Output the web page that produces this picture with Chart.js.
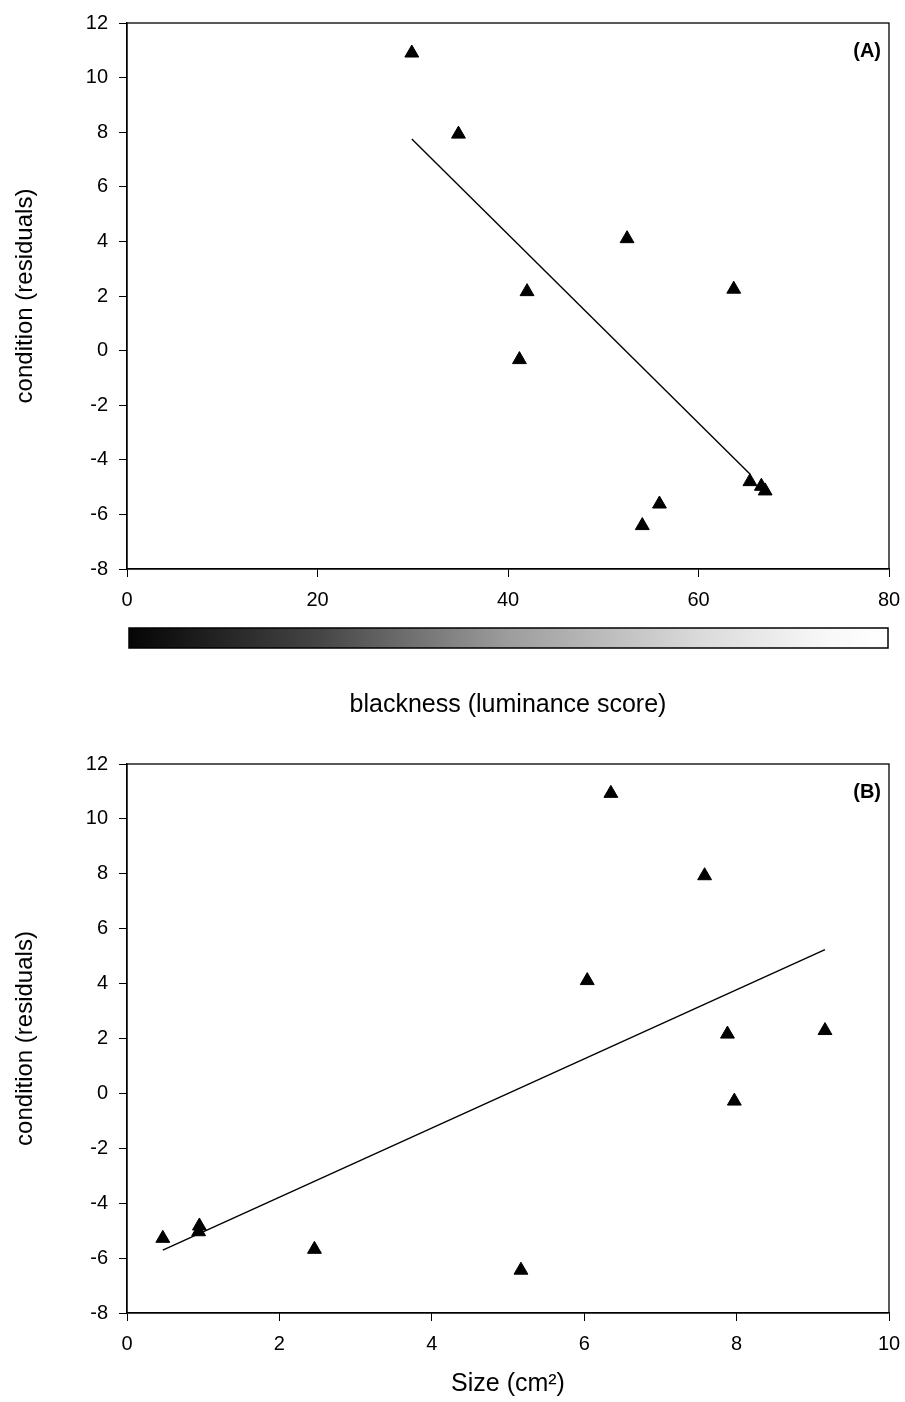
<!DOCTYPE html>
<html lang="en">
<head>
<meta charset="UTF-8">
<title>Condition residuals vs blackness and size</title>
<script src="https://cdn.jsdelivr.net/npm/chart.js@4.4.0/dist/chart.umd.min.js"></script>
<style>
  body { margin: 0; background: #fff; overflow: hidden; }
  .panel { position: relative; width: 905px; }
  #panelA { height: 730px; }
  #panelB { height: 672px; }
</style>
</head>
<body>
<div class="panel" id="panelA"><canvas id="chartA"></canvas></div>
<div class="panel" id="panelB"><canvas id="chartB"></canvas></div>

<script>
// panel A: blackness (luminance score) vs condition residuals
const blacknessX = [29.9, 34.8, 52.5, 42.0, 63.7, 41.2, 65.4, 66.6, 67.0, 55.9, 54.1];
const blacknessY = [10.9, 7.93, 4.1, 2.16, 2.25, -0.33, -4.8, -4.97, -5.14, -5.62, -6.41];
const fitAX = [29.9, 65.4];
const fitAY = [7.75, -4.52];

// panel B: patch size (cm2) vs condition residuals
const sizeX = [6.35, 7.58, 6.04, 7.88, 9.16, 7.97, 0.95, 0.94, 0.47, 2.46, 5.17];
const sizeY = [10.93, 7.93, 4.11, 2.16, 2.29, -0.28, -4.83, -5.04, -5.28, -5.68, -6.44];
const fitBX = [0.47, 9.16];
const fitBY = [-5.71, 5.24];

// tick labels
const blacknessTicks = [0, 20, 40, 60, 80];
const sizeTicks = [0, 2, 4, 6, 8, 10];
const residualTicks = [-8, -6, -4, -2, 0, 2, 4, 6, 8, 10, 12];

const FONT = '"Liberation Sans", Arial, sans-serif';
Chart.defaults.font.family = FONT;
Chart.defaults.color = '#000';

const pairs = (xs, ys) => xs.map((x, i) => ({ x: x, y: ys[i] }));

// box round the plot area plus the panel tag
const framePlugin = {
  id: 'frame',
  afterDraw(chart, args, opts) {
    const { ctx, chartArea: a } = chart;
    ctx.save();
    ctx.strokeStyle = '#000';
    ctx.lineWidth = 1.3;
    ctx.strokeRect(a.left, a.top, a.right - a.left, a.bottom - a.top);
    ctx.font = 'bold 20px ' + FONT;
    ctx.textAlign = 'right';
    ctx.textBaseline = 'middle';
    ctx.fillStyle = '#000';
    ctx.fillText(opts.tag, a.right - 8, a.top + 28);
    ctx.restore();
  }
};

// black-to-white key under the blackness axis
const lumBarPlugin = {
  id: 'lumBar',
  afterDraw(chart) {
    const ctx = chart.ctx;
    const xs = chart.scales.x;
    const l = xs.getPixelForValue(blacknessTicks[0]) + 2;
    const r = xs.getPixelForValue(blacknessTicks[blacknessTicks.length - 1]) - 1;
    const top = 628, h = 20;
    const g = ctx.createLinearGradient(l, 0, r, 0);
    g.addColorStop(0, '#050505');
    g.addColorStop(0.25, '#454545');
    g.addColorStop(0.5, '#9d9d9d');
    g.addColorStop(0.75, '#dadada');
    g.addColorStop(0.92, '#f8f8f8');
    g.addColorStop(1, '#ffffff');
    ctx.save();
    ctx.fillStyle = g;
    ctx.fillRect(l, top, r - l, h);
    ctx.strokeStyle = '#000';
    ctx.lineWidth = 1.5;
    ctx.strokeRect(l, top, r - l, h);
    ctx.restore();
  }
};

function makeChart(id, opts) {
  const xt = opts.xTicks;
  return new Chart(document.getElementById(id), {
    type: 'scatter',
    data: {
      datasets: [
        {
          data: pairs(opts.px, opts.py),
          pointStyle: 'triangle',
          pointRadius: 8,
          pointHoverRadius: 8,
          backgroundColor: '#000',
          borderColor: '#000',
          borderWidth: 1
        },
        {
          type: 'line',
          data: pairs(opts.fx, opts.fy),
          showLine: true,
          pointRadius: 0,
          borderColor: '#000',
          borderWidth: 1.4,
          fill: false
        }
      ]
    },
    options: {
      responsive: true,
      maintainAspectRatio: false,
      animation: false,
      events: [],
      layout: { padding: { left: 0, right: 16, top: opts.padTop, bottom: 0 } },
      plugins: {
        legend: { display: false },
        tooltip: { enabled: false },
        frame: { tag: opts.tag }
      },
      scales: {
        x: {
          type: 'linear',
          min: xt[0],
          max: xt[xt.length - 1],
          ticks: { stepSize: xt[1] - xt[0], padding: 11, maxRotation: 0, autoSkip: false, font: { size: 20 }, color: '#000' },
          grid: { drawOnChartArea: false, tickLength: 8, color: '#000', lineWidth: 1 },
          border: { color: '#000', width: 1.3 },
          title: { display: true, text: opts.xTitle, font: { size: 25 }, color: '#000', padding: { top: 0, bottom: opts.xTitlePad } },
          afterFit: s => {
            s.height = opts.xHeight;
            // edge labels may spill past the plot; keep the right edge where the layout puts it
            s.paddingLeft = 0;
            s.paddingRight = 0;
          }
        },
        y: {
          type: 'linear',
          min: residualTicks[0],
          max: residualTicks[residualTicks.length - 1],
          ticks: { stepSize: residualTicks[1] - residualTicks[0], padding: 11, autoSkip: false, font: { size: 20 }, color: '#000' },
          grid: { drawOnChartArea: false, tickLength: 8, color: '#000', lineWidth: 1 },
          border: { color: '#000', width: 1.3 },
          title: { display: true, text: 'condition (residuals)', font: { size: 24 }, color: '#000', padding: { top: 10.6, bottom: 0 } },
          afterFit: s => { s.width = 127; }
        }
      }
    },
    plugins: opts.extra.concat([framePlugin])
  });
}

makeChart('chartA', {
  px: blacknessX, py: blacknessY, fx: fitAX, fy: fitAY,
  xTicks: blacknessTicks, xTitle: 'blackness (luminance score)',
  tag: '(A)', padTop: 19, xHeight: 161, xTitlePad: 10.0,
  extra: [lumBarPlugin]
});

makeChart('chartB', {
  px: sizeX, py: sizeY, fx: fitBX, fy: fitBY,
  xTicks: sizeTicks, xTitle: 'Size (cm²)',
  tag: '(B)', padTop: 34, xHeight: 89, xTitlePad: 3.0,
  extra: []
});
</script>
</body>
</html>
